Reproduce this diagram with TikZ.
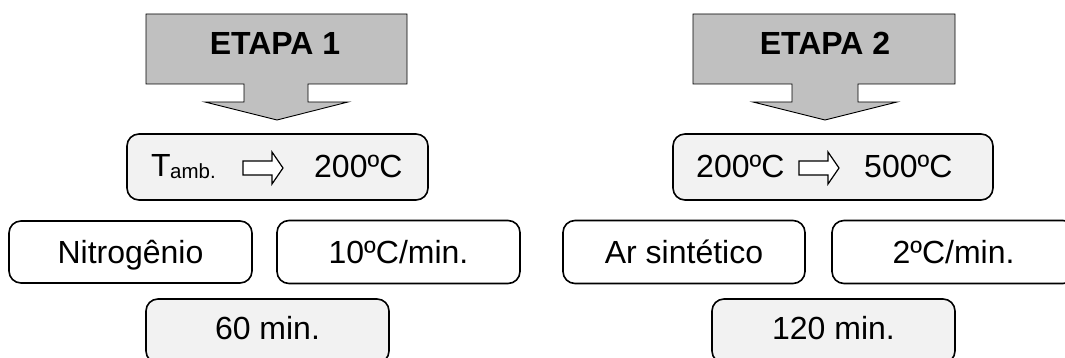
\documentclass[tikz,border=0pt]{standalone}
\usepackage{fontspec}
\setmainfont{Liberation Sans}
\definecolor{stagegray}{HTML}{C0C0C0}
\definecolor{boxgray}{HTML}{F2F2F2}
\begin{document}
\begin{tikzpicture}[x=1pt,y=-1pt,
  txt/.style={font=\fontsize{32}{38}\selectfont},
  box/.style={draw, line width=1.6pt, rounded corners=12pt, inner sep=0pt,
    txt, text height=22pt, text depth=0pt},
  shadedbox/.style={box, fill=boxgray},
  plainbox/.style={box, fill=white},
  timebox/.style={shadedbox, text depth=6pt},
  word/.style={txt, inner sep=0pt, anchor=base west},
  subword/.style={font=\fontsize{20.5}{24}\selectfont, inner sep=0pt, anchor=base west},
  stage/.style={draw, line width=0.9pt, fill=stagegray, line join=miter},
  stagetext/.style={font=\bfseries\fontsize{32}{38}\selectfont, inner sep=0pt, anchor=base},
  hollowarrow/.pic={\draw[line width=1.2pt, fill=white, line join=miter]
    (-20,-7) -- (9,-7) -- (9,-16) -- (20,0) -- (9,16) -- (9,7) -- (-20,7) -- cycle;}
]
\useasboundingbox (0,0) rectangle (1065,358);

% Stage 1 banner arrow
\draw[stage] (146,14) -- (407,14) -- (407,84) -- (308,84) -- (308,102) -- (348,102)
  -- (277,120) -- (205,102) -- (244,102) -- (244,84) -- (146,84) -- cycle;
\node[stagetext] (etapa1) at (275,55) {ETAPA 1};

% Stage 2 banner arrow
\draw[stage] (693,14) -- (955,14) -- (955,84) -- (858,84) -- (858,102) -- (897,102)
  -- (825,120) -- (753,102) -- (792,102) -- (792,84) -- (693,84) -- cycle;
\node[stagetext] (etapa2) at (825,55) {ETAPA 2};

% Stage 1 temperature range
\node[shadedbox, minimum width=301pt, minimum height=66pt] (range1) at (277.5,167) {};
\node[word] (tamb) at (151,177) {T};
\node[subword] (ambsub) at (170,179) {amb.};
\pic at (263,168) {hollowarrow};
\node[word] (t200a) at (314,178) {200ºC};

% Stage 1 conditions
\node[plainbox, minimum width=243pt, minimum height=62pt] (gas1) at (130.5,252) {Nitrogênio};
\node[plainbox, minimum width=243pt, minimum height=63pt] (rate1) at (398.5,252) {10ºC/min.};
\node[timebox, minimum width=243pt, minimum height=64pt] (time1) at (267.5,331) {60 min.};

% Stage 2 temperature range
\node[shadedbox, minimum width=320pt, minimum height=66pt] (range2) at (833,167) {};
\node[word] (t200b) at (696,178) {200ºC};
\pic at (819,168) {hollowarrow};
\node[word] (t500) at (864,178) {500ºC};

% Stage 2 conditions
\node[plainbox, minimum width=242pt, minimum height=63pt] (gas2) at (684,252) {Ar sintético};
\node[plainbox, minimum width=243pt, minimum height=63pt] (rate2) at (953.5,252) {2ºC/min.};
\node[timebox, minimum width=243pt, minimum height=64pt] (time2) at (833.5,331) {120 min.};
\end{tikzpicture}
\end{document}
